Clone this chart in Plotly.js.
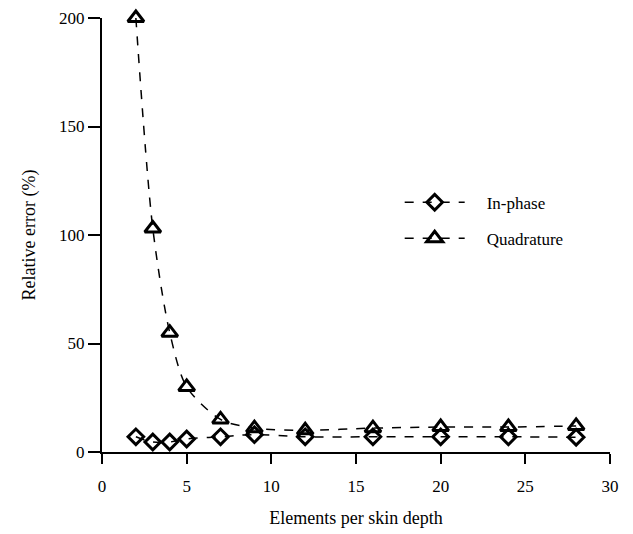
<!DOCTYPE html>
<html>
<head>
<meta charset="utf-8">
<script src="https://cdn.plot.ly/plotly-3.0.1.min.js"></script>
<style>html,body{margin:0;padding:0;background:#fff;}#chart{width:633px;height:534px;}</style>
</head>
<body>
<div id="chart"></div>
<script>
const elementsPerSkinDepth = [2, 3, 4, 5, 7, 9, 12, 16, 20, 24, 28];
const inPhase = [7, 4.6, 4.6, 6, 7, 8, 7, 7, 7, 7, 6.8];
const quadrature = [200, 103, 55, 30, 15, 11, 10, 11, 11.5, 11.5, 12];
const xTicks = [0, 5, 10, 15, 20, 25, 30];
const yTicks = [0, 50, 100, 150, 200];
const seriesNames = ['In-phase', 'Quadrature'];

const font = {family: '"Liberation Serif", "DejaVu Serif", serif', color: '#000'};
const pad = '\u00a0\u00a0\u00a0\u00a0';

const traces = [
  {
    x: elementsPerSkinDepth, y: inPhase, name: pad + seriesNames[0],
    type: 'scatter', mode: 'lines+markers', legendgroup: 'a',
    line: {color: '#000', width: 1.5, dash: 'dash', shape: 'spline'},
    marker: {symbol: 'diamond-open', size: 12, color: '#000', line: {width: 3, color: '#000'}},
    cliponaxis: false
  },
  {
    x: elementsPerSkinDepth, y: quadrature, name: pad + seriesNames[1],
    type: 'scatter', mode: 'lines+markers', legendgroup: 'b',
    line: {color: '#000', width: 1.5, dash: 'dash', shape: 'spline', smoothing: 0.8},
    marker: {symbol: 'triangle-up-open', size: 14, color: '#000', line: {width: 3, color: '#000'}},
    cliponaxis: false
  }
];

const layout = {
  width: 633, height: 534,
  margin: {l: 102, r: 23, t: 18, b: 82},
  paper_bgcolor: '#fff', plot_bgcolor: '#fff',
  font: Object.assign({size: 17}, font),
  showlegend: true,
  legend: {
    x: 0.586, y: 0.616, xanchor: 'left', yanchor: 'top',
    bgcolor: 'rgba(0,0,0,0)', traceorder: 'grouped', tracegroupgap: 11,
    itemwidth: 60, font: Object.assign({size: 17}, font)
  },
  xaxis: {
    range: [0, 30], tickvals: xTicks, ticktext: xTicks.map(String),
    showgrid: false, zeroline: false, showline: true, linecolor: '#000', linewidth: 2,
    ticks: 'outside', ticklen: 10, tickwidth: 2, tickcolor: '#000',
    tickfont: Object.assign({size: 17}, font), ticklabelstandoff: 8,
    title: {text: 'Elements per skin depth', font: Object.assign({size: 18}, font), standoff: 16}
  },
  yaxis: {
    range: [0, 200], tickvals: yTicks, ticktext: yTicks.map(String),
    showgrid: false, zeroline: false, showline: true, linecolor: '#000', linewidth: 2,
    ticks: 'outside', ticklen: 12, tickwidth: 2, tickcolor: '#000',
    tickfont: Object.assign({size: 17}, font),
    title: {text: 'Relative error (%)', font: Object.assign({size: 18}, font), standoff: 19}
  }
};

Plotly.newPlot('chart', traces, layout, {displayModeBar: false, staticPlot: true});
</script>
</body>
</html>
